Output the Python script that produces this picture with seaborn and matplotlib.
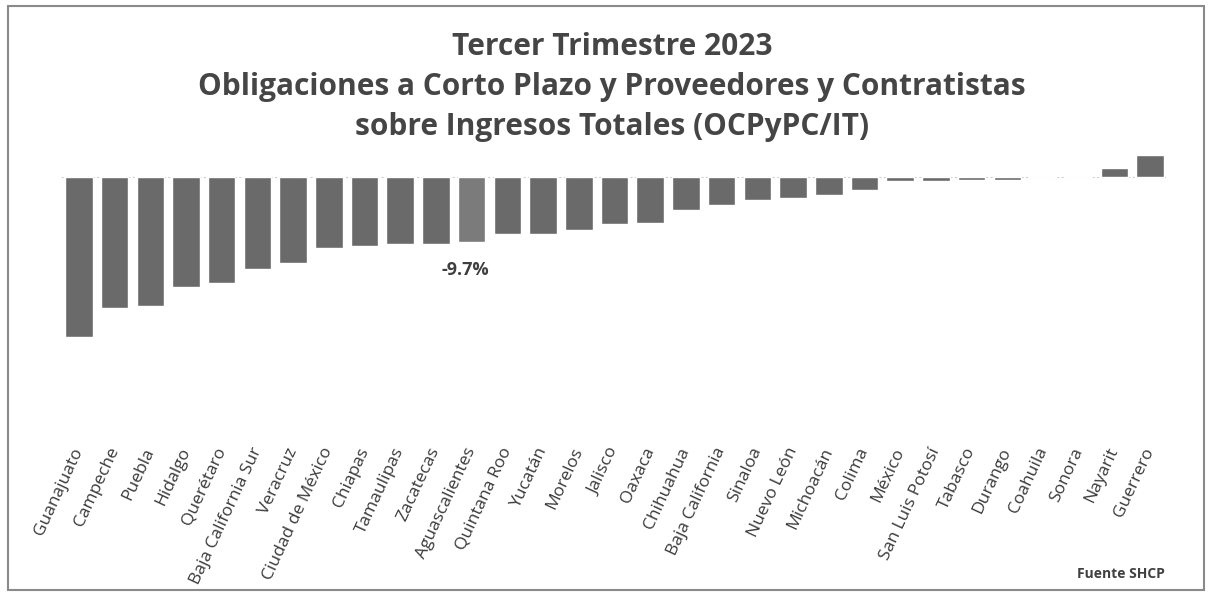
import matplotlib
matplotlib.use('Agg')
import matplotlib.pyplot as plt
import seaborn as sns
from matplotlib.patches import Rectangle

# datos (en %)
estados = ['Guanajuato', 'Campeche', 'Puebla', 'Hidalgo', 'Querétaro',
           'Baja California Sur', 'Veracruz', 'Ciudad de México', 'Chiapas',
           'Tamaulipas', 'Zacatecas', 'Aguascalientes', 'Quintana Roo', 'Yucatán',
           'Morelos', 'Jalisco', 'Oaxaca', 'Chihuahua', 'Baja California',
           'Sinaloa', 'Nuevo León', 'Michoacán', 'Colima', 'México',
           'San Luis Potosí', 'Tabasco', 'Durango', 'Coahuila', 'Sonora',
           'Nayarit', 'Guerrero']
valores = [-23.9, -19.6, -19.3, -16.4, -15.8, -13.7, -12.8, -10.6, -10.4,
           -10.1, -10.0, -9.7, -8.6, -8.5, -8.0, -7.0, -6.9, -4.9, -4.2,
           -3.4, -3.2, -2.7, -1.9, -0.6, -0.6, -0.5, -0.5, 0.0, 0.0,
           1.3, 3.2]
destacado = 'Aguascalientes'
etiqueta = '-9.7%'

titulo = ('Tercer Trimestre 2023\n'
          'Obligaciones a Corto Plazo y Proveedores y Contratistas\n'
          'sobre Ingresos Totales (OCPyPC/IT)')
fuente = 'Fuente SHCP'

sns.set_style('white')
plt.rcParams['font.family'] = ['Open Sans', 'DejaVu Sans']

colores = ['#7b7b7b' if e == destacado else '#6a6a6a' for e in estados]

fig = plt.figure(figsize=(12.12, 5.95), dpi=100)
ax = fig.add_axes([61 / 1212, 1 - 440 / 595, (1168 - 61) / 1212, (440 - 150) / 595])

sns.barplot(x=estados, y=valores, hue=estados, palette=colores, legend=False,
            width=0.77, saturation=1, ax=ax)

ax.set_xlim(-0.5, len(estados) - 0.5)
ax.set_ylim(-39.3, 4)
ax.axhline(0, color='#d0d0d0', lw=0.8, ls=(0, (2, 2)), zorder=0)
for s in ax.spines.values():
    s.set_visible(False)
ax.set_yticks([])
ax.set_xlabel('')
ax.set_ylabel('')
ax.tick_params(axis='x', length=0, pad=6)
for lbl in ax.get_xticklabels():
    lbl.set_rotation(65)
    lbl.set_ha('right')
    lbl.set_va('center')
    lbl.set_rotation_mode('anchor')
    lbl.set_fontsize(12.5)
    lbl.set_color('#3a3a3a')

# etiqueta del valor destacado
i = estados.index(destacado)
ax.text(i - 0.17, valores[i] - 4.2, etiqueta, ha='center', va='center',
        fontsize=13, fontweight='bold', color='#3f3f3f')

fig.text(0.505, 1 - 32 / 595, titulo, ha='center', va='top', fontsize=21.5,
         fontweight='bold', color='#454545', linespacing=1.43)
fig.text(1165 / 1212, 1 - 574 / 595, fuente, ha='right', va='center',
         fontsize=10, fontweight='bold', color='#404040')

# marco de la gráfica
fig.patches.append(Rectangle((8 / 1212, 5 / 595), 1196 / 1212, 584 / 595,
                             transform=fig.transFigure, fill=False,
                             edgecolor='#8a8a8a', lw=1.5))

fig.savefig('out.png', dpi=100)
